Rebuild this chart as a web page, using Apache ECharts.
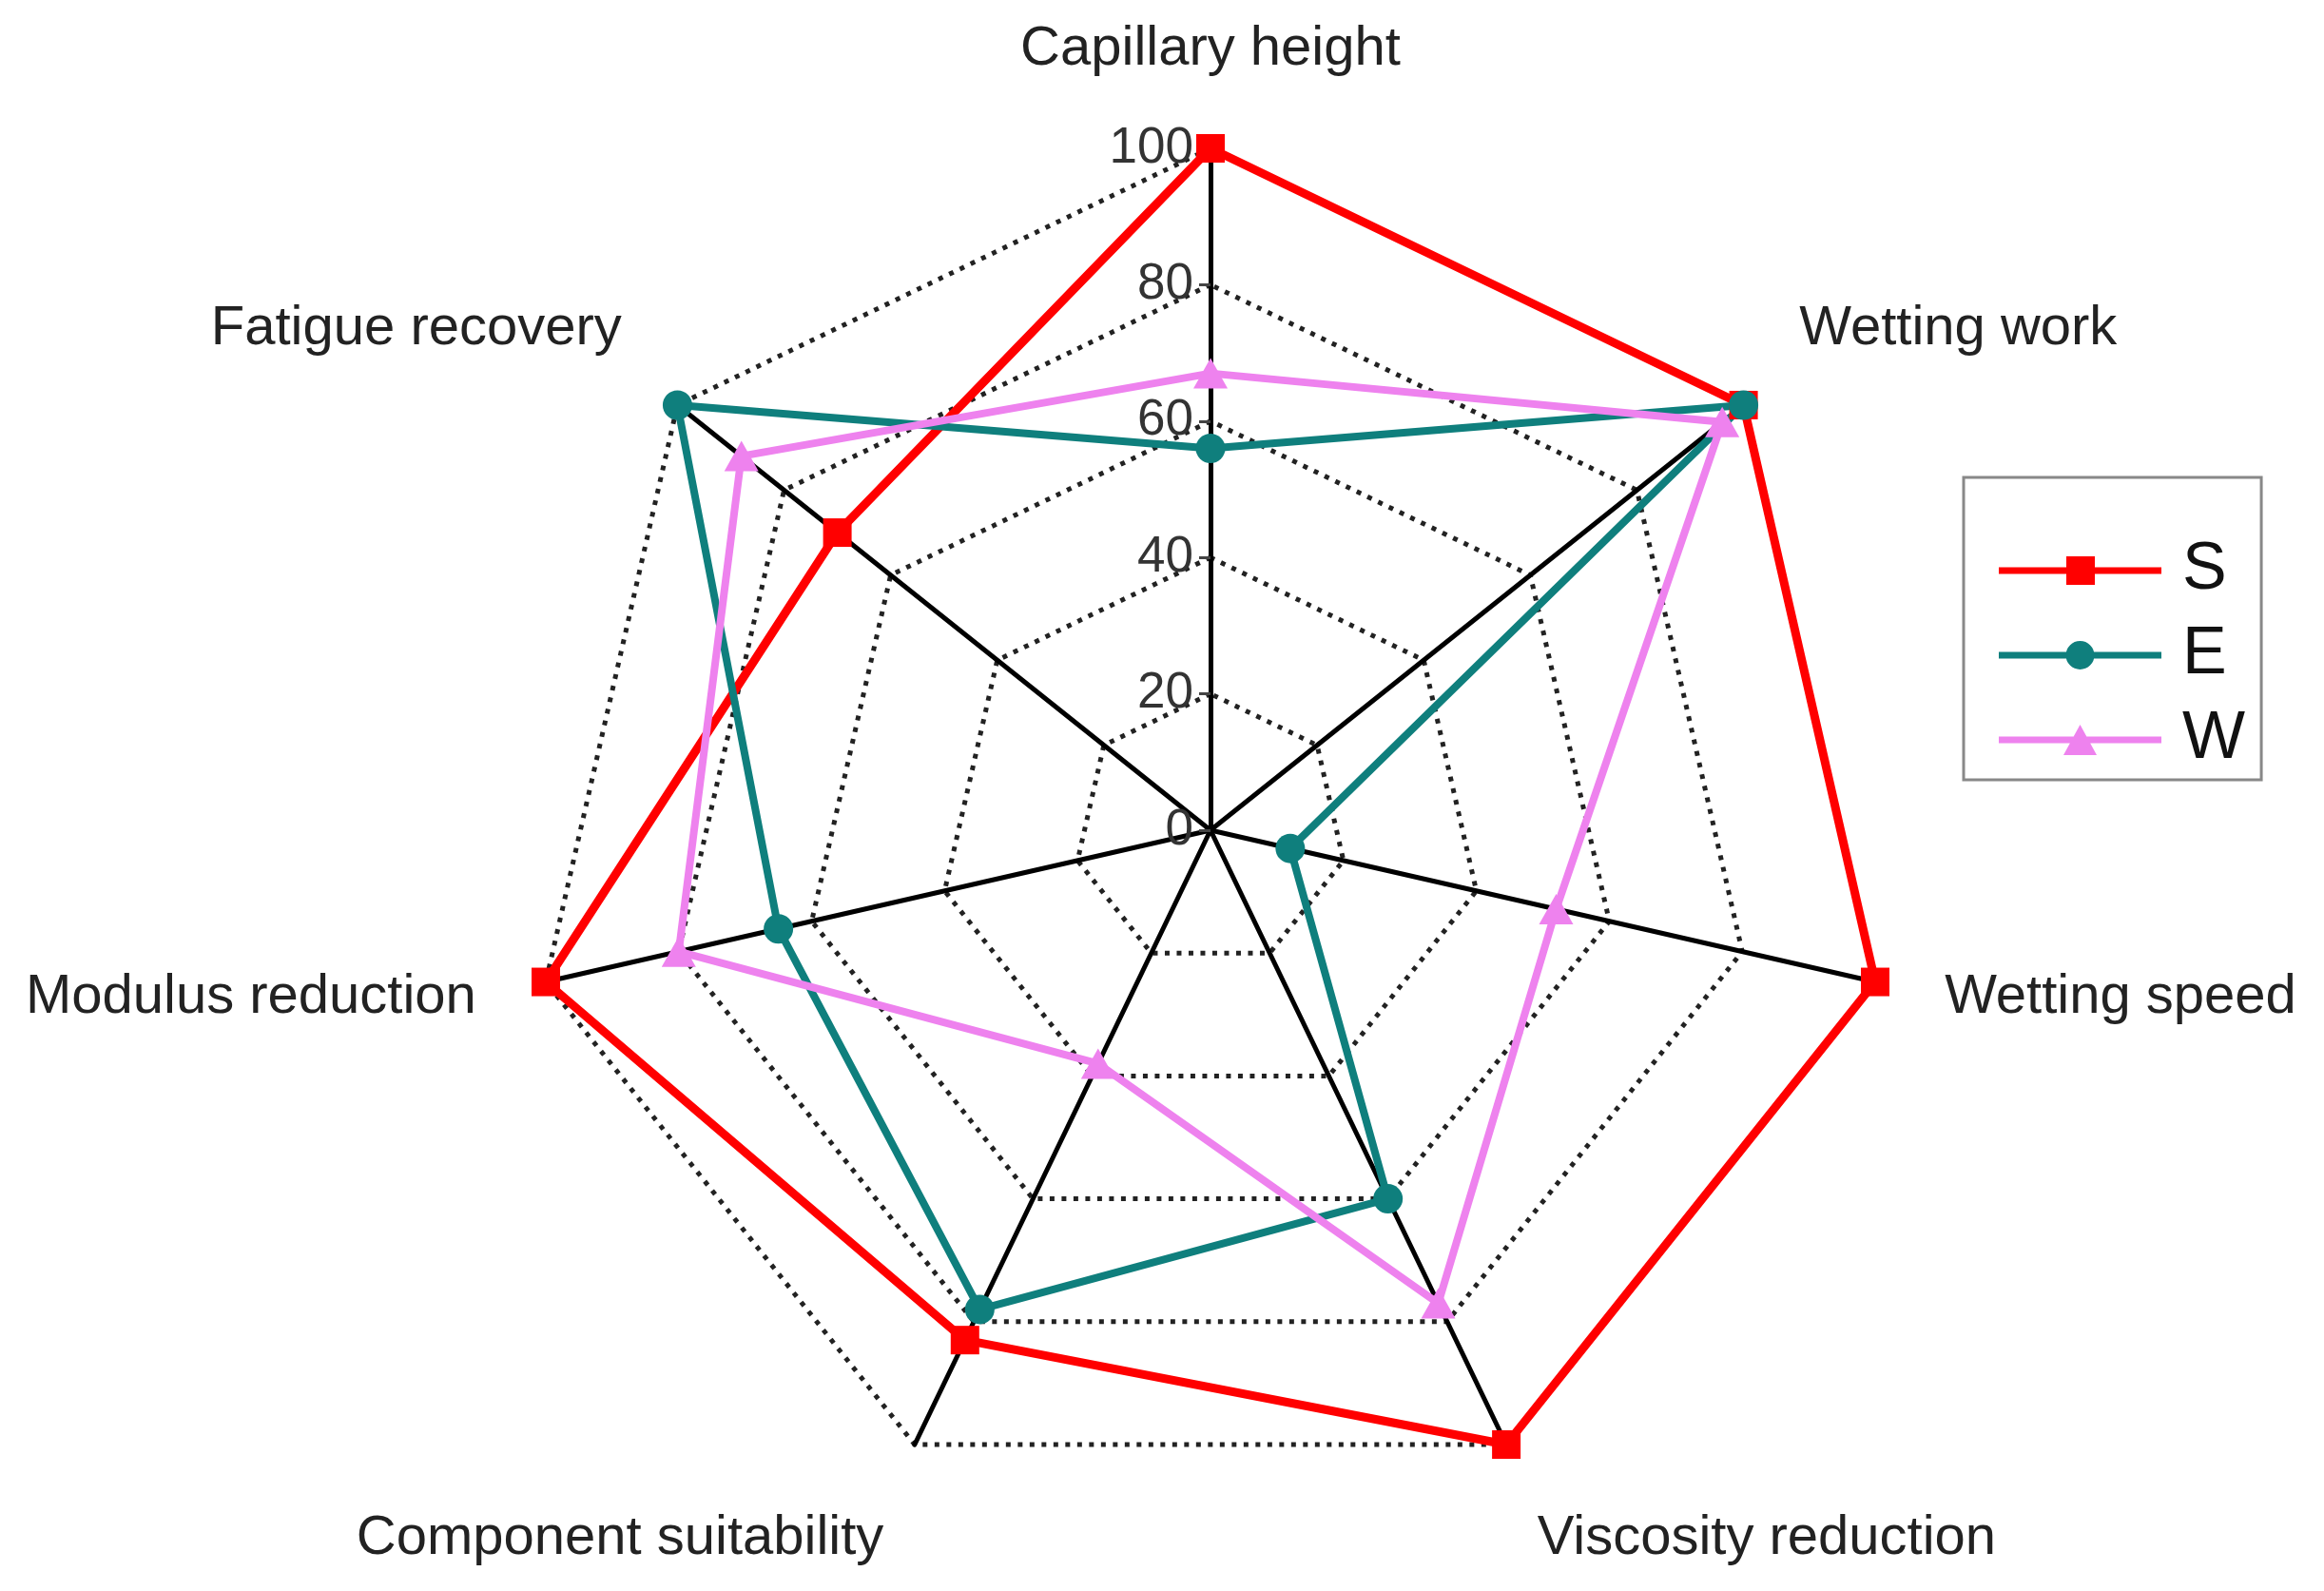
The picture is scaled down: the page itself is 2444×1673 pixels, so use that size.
<!DOCTYPE html>
<html>
<head>
<meta charset="utf-8">
<script src="https://cdn.jsdelivr.net/npm/echarts@6/dist/echarts.min.js"></script>
<style>html,body{margin:0;padding:0;background:#fff}#c{width:2444px;height:1673px}</style>
</head>
<body>
<div id="c"></div>
<script>
// categories listed clockwise starting at the top
const indicatorNames = ['Capillary height','Wetting work','Wetting speed','Viscosity reduction','Component suitability','Modulus reduction','Fatigue recovery'];
const seriesNames = ['S','E','W'];
const valuesS = [100, 100, 100, 100, 83, 100, 70];
const valuesE = [56, 100, 12, 60, 78, 65, 100];
const valuesW = [67, 96, 52, 77, 38, 80, 88];
const axisMax = 100;

// ECharts radar runs counter-clockwise; reorder so categories appear clockwise
const order = [0].concat(indicatorNames.map(function(_, i){return i;}).slice(1).reverse());
function ord(arr){ return order.map(function(i){ return arr[i]; }); }

const colors = {S:'#ff0000', E:'#0f7f7d', W:'#ee82ee'};
const nameShift = {'Wetting work':'up','Fatigue recovery':'up','Viscosity reduction':'down','Component suitability':'down'};

const iconS = 'path://M0,13.5 L71,13.5 L71,2 L101,2 L101,13.5 L171,13.5 L171,20.5 L101,20.5 L101,32 L71,32 L71,20.5 L0,20.5 Z';
const iconE = 'path://M0,13.5 L171,13.5 L171,20.5 L0,20.5 Z M70.5,17 A15,15 0 1,1 100.5,17 A15,15 0 1,1 70.5,17 Z';
const iconW = 'path://M0,13.5 L171,13.5 L171,20.5 L0,20.5 Z M85.5,1 L103,33 L68,33 Z';

const chart = echarts.init(document.getElementById('c'), null, {renderer:'canvas'});
const fam = '"Liberation Sans", Arial, sans-serif';
chart.setOption({
  backgroundColor:'#ffffff',
  textStyle:{fontFamily:fam},
  animation:false,
  legend:{
    orient:'vertical', left:2065, top:502,
    padding:[63,17,7,37],
    itemWidth:171, itemHeight:34, itemGap:19,
    borderColor:'#888', borderWidth:3,
    textStyle:{fontSize:70, lineHeight:70, color:'#111', fontFamily:fam, padding:[0,0,0,17]},
    data:[
      {name:'S', icon:iconS, itemStyle:{color:colors.S, borderWidth:0}},
      {name:'E', icon:iconE, itemStyle:{color:colors.E, borderWidth:0}},
      {name:'W', icon:iconW, itemStyle:{color:colors.W, borderWidth:0}}
    ]
  },
  radar:{
    center:[1273, 873],
    radius:717,
    startAngle:90,
    shape:'polygon',
    splitNumber:5,
    nameGap:75,
    axisName:{
      color:'#222', fontSize:58, fontFamily:fam,
      formatter:function(name){ const k = nameShift[name] || 'n'; return '{' + k + '|' + name + '}'; },
      rich:{
        n:{fontSize:58, color:'#222', fontFamily:fam},
        up:{fontSize:58, color:'#222', fontFamily:fam, padding:[0,0,66,0]},
        down:{fontSize:58, color:'#222', fontFamily:fam, padding:[62,0,0,0]}
      }
    },
    axisLine:{lineStyle:{color:'#000', width:5}},
    axisTick:{show:false},
    axisLabel:{show:false},
    splitLine:{lineStyle:{color:'#222', width:5, type:[5, 7.5]}},
    splitArea:{show:false},
    indicator: ord(indicatorNames).map(function(n, i){
      const o = {name:n, min:0, max:axisMax};
      if (i === 0) {
        o.axisLabel = {show:true, fontSize:53, color:'#333', margin:18, fontFamily:fam};
        o.axisTick = {show:true, length:12, lineStyle:{color:'#444', width:3}};
      }
      return o;
    })
  },
  series:[{
    type:'radar',
    data:[
      {name:'S', value:ord(valuesS), symbol:'rect', symbolSize:30,
        lineStyle:{color:colors.S, width:9}, itemStyle:{color:colors.S}},
      {name:'E', value:ord(valuesE), symbol:'circle', symbolSize:31,
        lineStyle:{color:colors.E, width:8}, itemStyle:{color:colors.E}},
      {name:'W', value:ord(valuesW), symbol:'triangle', symbolSize:[36,32],
        lineStyle:{color:colors.W, width:8}, itemStyle:{color:colors.W}}
    ]
  }]
});
</script>
</body>
</html>
